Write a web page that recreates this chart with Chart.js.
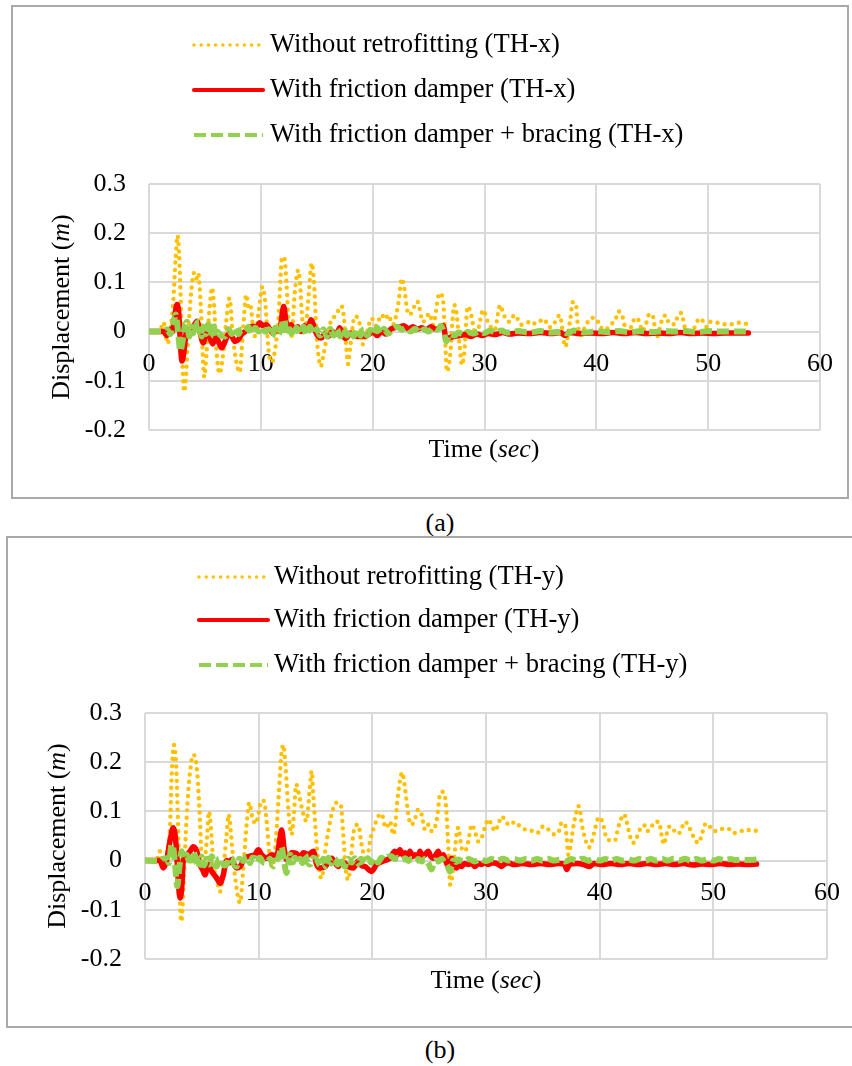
<!DOCTYPE html>
<html>
<head>
<meta charset="utf-8">
<title>Displacement time histories</title>
<script src="https://cdn.jsdelivr.net/npm/chart.js@4.4.0/dist/chart.umd.min.js"></script>
<style>
  body { margin: 0; background: #fff; width: 852px; height: 1066px; position: relative; overflow: hidden;
         font-family: "Liberation Serif", "Times New Roman", serif; }
  .panel { position: absolute; box-sizing: border-box; border: 2px solid #a9a9a9; background: #fff; }
  .panel canvas { display: block; }
  .caption { position: absolute; width: 100px; text-align: center; font-size: 26px; line-height: 30px; color: #000; }
</style>
</head>
<body>
<div class="panel" style="left:11px; top:5px; width:838px; height:494px;">
  <canvas id="chartX" width="834" height="490"></canvas>
</div>
<div class="caption" style="left:390px; top:508px;">(a)</div>
<div class="panel" style="left:6px; top:536px; width:848px; height:492px;">
  <canvas id="chartY" width="844" height="488"></canvas>
</div>
<div class="caption" style="left:390px; top:1035px;">(b)</div>

<script>
// ---------- axis ticks ----------
const timeTicks = [0, 10, 20, 30, 40, 50, 60];
const dispTicks = [-0.2, -0.1, 0, 0.1, 0.2, 0.3];

// ---------- series names ----------
const namesX = ["Without retrofitting (TH-x)", "With friction damper (TH-x)", "With friction damper + bracing (TH-x)"];
const namesY = ["Without retrofitting (TH-y)", "With friction damper (TH-y)", "With friction damper + bracing (TH-y)"];

// ---------- TH-x records: [time (sec), displacement (m)] ----------
const noRetroX = [[0,0],[1.0,0.004],[1.3,0.019],[1.65,-0.024],[1.95,0.012],[2.17,0.061],[2.38,0.149],[2.56,0.195],[2.68,0.163],[2.86,0.047],[3.0,-0.068],[3.15,-0.122],[3.3,-0.095],[3.5,-0.007],[3.8,0.088],[4.05,0.12],[4.25,0.108],[4.4,0.118],[4.64,0.047],[4.85,-0.068],[4.94,-0.092],[5.15,-0.04],[5.39,0.041],[5.65,0.089],[5.83,0.047],[6.04,-0.04],[6.3,-0.085],[6.55,-0.06],[6.9,0.02],[7.2,0.068],[7.5,-0.01],[7.8,-0.06],[8.1,-0.083],[8.4,0.0],[8.7,0.075],[8.9,0.05],[9.05,0.055],[9.3,0.01],[9.5,-0.01],[9.8,0.04],[10.15,0.091],[10.4,0.058],[10.7,-0.04],[11.0,-0.062],[11.25,-0.04],[11.55,0.02],[11.9,0.149],[12.08,0.152],[12.3,0.095],[12.5,0.014],[12.74,-0.01],[13.04,0.081],[13.35,0.125],[13.5,0.1],[13.7,0.027],[13.93,0.0],[14.23,0.061],[14.55,0.139],[14.76,0.098],[14.97,0.0],[15.18,-0.054],[15.36,-0.071],[15.6,-0.047],[15.86,-0.017],[16.16,0.014],[16.8,0.037],[17.2,0.052],[17.4,0.035],[17.65,-0.034],[17.8,-0.066],[18.0,-0.03],[18.4,0.031],[18.8,0.02],[19.1,-0.026],[19.5,0.0],[19.9,0.027],[20.3,0.012],[20.8,0.034],[21.1,0.025],[21.4,0.034],[21.8,0.014],[22.3,0.058],[22.6,0.108],[22.85,0.085],[23.06,0.047],[23.3,0.034],[24.0,0.061],[24.5,0.02],[25.09,0.037],[25.4,0.014],[25.98,0.078],[26.28,0.068],[26.43,0.014],[26.64,-0.081],[26.9,-0.054],[27.3,0.054],[27.5,0.037],[27.77,-0.027],[28.0,-0.068],[28.2,-0.04],[28.5,0.051],[28.7,0.044],[29.25,-0.007],[29.9,0.044],[30.3,0.02],[30.9,0.003],[31.4,0.054],[31.7,0.035],[32.2,0.02],[32.7,0.034],[33.3,0.014],[33.9,0.019],[34.2,0.014],[34.5,0.017],[34.9,0.019],[35.2,0.026],[35.5,0.02],[35.8,0.009],[36.2,0.014],[36.4,0.025],[36.76,0.033],[36.9,0.016],[37.08,-0.017],[37.23,-0.031],[37.4,-0.017],[37.68,0.027],[37.9,0.06],[38.2,0.054],[38.3,0.022],[38.6,-0.007],[39.08,0.014],[39.6,0.028],[39.97,0.027],[40.27,0.014],[40.7,0.003],[41.3,0.014],[41.75,0.027],[41.96,0.041],[42.35,0.03],[42.5,0.015],[42.95,-0.001],[43.2,0.017],[43.6,0.028],[43.9,0.016],[44.1,0.001],[44.4,0.012],[44.7,0.034],[45.0,0.035],[45.4,-0.011],[45.9,0.025],[46.2,0.033],[46.5,0.017],[47.0,0.015],[47.3,0.033],[47.6,0.038],[47.9,0.01],[48.3,0.0],[48.75,0.007],[49.0,0.02],[49.3,0.027],[49.6,0.019],[49.9,0.009],[50.2,0.02],[50.8,0.018],[51.4,0.015],[52.0,0.015],[52.7,0.018],[53.4,0.016],[53.7,0.015]];
const damperX = [[0,0],[1.3,0],[1.6,-0.008],[1.9,0.005],[2.1,0.0],[2.3,0.03],[2.5,0.055],[2.65,0.04],[2.8,-0.02],[2.95,-0.06],[3.1,-0.045],[3.35,0.0],[3.7,0.005],[4.0,0.012],[4.3,0.021],[4.55,0.0],[4.85,-0.023],[5.1,-0.005],[5.4,-0.01],[5.7,-0.025],[6.0,-0.01],[6.2,-0.02],[6.5,-0.033],[6.8,-0.02],[7.1,-0.005],[7.4,-0.01],[7.7,-0.02],[8.0,-0.016],[8.3,-0.005],[8.6,0.0],[8.9,0.008],[9.3,0.011],[9.6,0.008],[9.9,0.018],[10.2,0.012],[10.5,0.014],[10.8,0.005],[11.1,-0.004],[11.4,0.005],[11.7,0.0],[11.9,0.035],[12.05,0.051],[12.25,0.02],[12.5,0.005],[12.7,0.014],[13.0,0.005],[13.3,0.01],[13.6,0.0],[13.9,0.012],[14.2,0.005],[14.5,0.024],[14.75,0.01],[15.0,-0.005],[15.4,-0.013],[15.7,-0.005],[16.0,-0.01],[16.4,0.0],[16.8,-0.005],[17.05,0.008],[17.35,-0.008],[17.6,-0.014],[18.0,-0.003],[18.3,-0.008],[18.6,-0.01],[19.0,-0.008],[19.3,-0.01],[19.7,-0.005],[20.0,0.0],[20.4,-0.008],[20.8,0.0],[21.2,-0.005],[21.6,0.005],[22.0,0.008],[22.4,0.01],[22.8,0.012],[23.2,0.005],[23.6,0.01],[24.0,0.005],[24.4,0.008],[24.8,0.003],[25.2,0.01],[25.6,0.005],[26.0,0.008],[26.3,0.012],[26.6,-0.017],[26.9,-0.012],[27.3,-0.01],[27.8,-0.008],[28.3,-0.006],[28.8,-0.01],[29.3,-0.005],[29.8,-0.008],[30.3,-0.004],[31.0,-0.006],[31.6,-0.002],[32.3,-0.005],[33.0,-0.003],[34.0,-0.004],[35.0,-0.002],[36.0,-0.004],[36.8,-0.002],[37.2,-0.008],[37.6,-0.002],[38.5,-0.004],[39.5,-0.003],[40.5,-0.004],[41.5,-0.002],[42.5,-0.004],[43.5,-0.002],[44.5,-0.004],[45.5,-0.003],[46.5,-0.004],[47.5,-0.002],[48.5,-0.004],[49.5,-0.003],[50.5,-0.004],[51.5,-0.003],[52.5,-0.003],[53.6,-0.003]];
const bracedX = [[0,0],[1.3,0],[1.6,0.005],[1.9,-0.005],[2.2,0.02],[2.4,0.035],[2.6,0.0],[2.8,-0.04],[3.0,-0.02],[3.2,0.01],[3.4,0.02],[3.6,-0.01],[3.8,0.01],[4.0,-0.01],[4.25,0.015],[4.5,0.02],[4.7,-0.01],[4.9,0.01],[5.1,-0.005],[5.3,0.015],[5.5,-0.01],[5.7,0.02],[5.9,-0.01],[6.1,0.0],[6.4,-0.008],[6.8,-0.01],[7.1,0.005],[7.4,-0.005],[7.7,0.008],[8.0,-0.005],[8.3,0.005],[8.6,0.0],[8.9,0.01],[9.2,-0.005],[9.5,0.008],[9.8,0.0],[10.1,0.01],[10.4,0.0],[10.7,0.005],[11.0,-0.01],[11.3,0.008],[11.6,-0.005],[11.9,0.015],[12.1,0.025],[12.3,-0.008],[12.6,0.005],[12.9,-0.01],[13.2,0.008],[13.5,-0.005],[13.8,0.01],[14.1,-0.008],[14.4,0.01],[14.7,-0.005],[15.0,0.005],[15.3,-0.008],[15.6,0.005],[15.9,-0.01],[16.2,0.006],[16.5,-0.008],[16.8,0.005],[17.1,-0.01],[17.4,0.006],[17.7,-0.008],[18.0,0.005],[18.3,-0.01],[18.6,0.006],[18.9,-0.008],[19.2,0.005],[19.5,-0.008],[19.8,0.004],[20.1,-0.006],[20.4,0.008],[20.7,-0.004],[21.0,0.006],[21.4,-0.004],[21.8,0.006],[22.2,0.01],[22.6,0.004],[23.0,0.008],[23.4,0.0],[23.8,0.006],[24.2,-0.002],[24.6,0.005],[25.0,0.0],[25.4,0.008],[25.8,0.004],[26.1,0.012],[26.35,0.0],[26.6,-0.02],[26.9,-0.005],[27.3,-0.008],[27.7,-0.002],[28.1,-0.006],[28.5,-0.001],[29.0,-0.004],[29.5,0.0],[30.0,-0.003],[30.5,0.002],[31.0,-0.002],[31.5,0.002],[32.0,-0.002],[33.0,0.001],[34.0,-0.002],[35.0,0.001],[36.0,-0.002],[37.0,0.0],[37.4,-0.004],[38.0,0.002],[39.0,-0.002],[40.0,0.001],[41.0,-0.001],[42.0,0.001],[43.0,-0.001],[44.0,0.001],[45.0,-0.001],[46.0,0.001],[47.0,0.0],[48.0,0.001],[49.0,-0.001],[50.0,0.001],[51.0,0.0],[52.0,0.0],[53.6,0.0]];

// ---------- TH-y records: [time (sec), displacement (m)] ----------
const noRetroY = [[0,0],[1.0,0.0],[1.3,0.019],[1.6,-0.018],[1.9,0.012],[2.2,0.067],[2.35,0.175],[2.55,0.235],[2.75,0.19],[2.93,0.053],[3.08,-0.09],[3.2,-0.124],[3.37,-0.063],[3.66,0.087],[3.96,0.18],[4.25,0.215],[4.55,0.19],[4.78,0.107],[5.0,0.0],[5.12,-0.015],[5.43,0.04],[5.63,0.1],[5.8,0.067],[6.0,0.0],[6.4,-0.049],[6.6,-0.063],[6.9,-0.015],[7.18,0.053],[7.36,0.094],[7.54,0.061],[7.77,0.0],[8.1,-0.063],[8.36,-0.086],[8.65,-0.015],[8.94,0.073],[9.18,0.118],[9.42,0.09],[9.76,0.075],[9.97,0.094],[10.26,0.122],[10.47,0.121],[10.7,0.08],[11.0,0.0],[11.23,-0.012],[11.44,0.019],[11.73,0.12],[12.0,0.216],[12.17,0.235],[12.37,0.19],[12.6,0.107],[12.9,0.053],[13.1,0.094],[13.3,0.155],[13.6,0.128],[13.9,0.097],[14.2,0.08],[14.5,0.148],[14.66,0.182],[14.8,0.135],[15.1,0.033],[15.4,-0.029],[15.55,-0.036],[15.83,0.016],[16.42,0.094],[16.86,0.118],[17.24,0.111],[17.44,0.053],[17.65,-0.015],[17.88,-0.039],[18.05,-0.015],[18.32,0.053],[18.6,0.072],[18.76,0.073],[19.05,0.033],[19.5,-0.001],[19.79,0.039],[19.94,0.053],[20.23,0.073],[20.52,0.09],[20.82,0.095],[21.1,0.07],[21.25,0.067],[21.55,0.08],[21.84,0.053],[21.99,0.067],[22.2,0.121],[22.43,0.162],[22.63,0.179],[22.87,0.148],[23.16,0.094],[23.4,0.073],[23.69,0.08],[24.04,0.104],[24.33,0.094],[24.63,0.063],[24.92,0.073],[25.21,0.06],[25.5,0.067],[25.74,0.094],[25.95,0.135],[26.15,0.14],[26.39,0.131],[26.53,0.094],[26.74,0.0],[26.85,-0.049],[27.12,-0.015],[27.41,0.053],[27.56,0.067],[27.85,0.026],[28.14,0.019],[28.44,0.039],[28.73,0.073],[29.02,0.06],[29.32,0.039],[29.61,0.046],[29.9,0.067],[30.2,0.084],[30.49,0.073],[30.78,0.06],[31.08,0.073],[31.37,0.09],[31.81,0.077],[32.1,0.072],[32.54,0.079],[32.98,0.07],[33.56,0.062],[34.15,0.06],[34.45,0.056],[34.74,0.06],[35.03,0.07],[35.33,0.067],[35.62,0.06],[36.06,0.053],[36.44,0.061],[36.65,0.077],[36.94,0.075],[37.1,0.046],[37.23,0.012],[37.38,0.022],[37.67,0.067],[37.91,0.095],[38.11,0.111],[38.26,0.104],[38.41,0.077],[38.7,0.046],[39.08,0.027],[39.28,0.036],[39.58,0.063],[39.78,0.082],[40.02,0.088],[40.31,0.073],[40.6,0.046],[41.04,0.041],[41.34,0.041],[41.63,0.067],[41.87,0.084],[42.16,0.094],[42.36,0.08],[42.66,0.05],[42.95,0.036],[43.24,0.046],[43.54,0.063],[43.92,0.072],[44.12,0.06],[44.42,0.063],[44.85,0.079],[45.21,0.079],[45.44,0.053],[45.65,0.033],[45.88,0.053],[46.17,0.07],[46.47,0.063],[46.91,0.054],[47.29,0.07],[47.49,0.079],[47.79,0.072],[48.22,0.05],[48.67,0.036],[48.96,0.05],[49.25,0.073],[49.55,0.075],[49.84,0.063],[50.43,0.06],[50.86,0.065],[51.39,0.064],[51.81,0.056],[52.33,0.059],[52.92,0.063],[53.5,0.06],[53.8,0.061]];
const damperY = [[0,0],[1.3,0],[1.61,-0.015],[1.9,0.0],[2.2,0.04],[2.49,0.067],[2.73,0.033],[2.93,-0.042],[3.08,-0.076],[3.23,-0.056],[3.37,0.0],[3.67,0.012],[3.96,0.019],[4.25,0.028],[4.55,0.019],[4.84,-0.008],[5.1,-0.02],[5.28,-0.029],[5.57,-0.008],[5.87,-0.022],[6.3,-0.035],[6.6,-0.046],[6.89,-0.029],[7.18,0.0],[7.4,-0.005],[7.62,0.002],[8.06,-0.015],[8.36,-0.012],[8.8,0.005],[9.24,0.009],[9.68,0.012],[9.97,0.022],[10.26,0.012],[10.7,0.005],[11.14,0.012],[11.58,0.009],[11.88,0.046],[12.02,0.062],[12.23,0.026],[12.46,0.002],[12.9,0.016],[13.34,0.014],[13.64,0.005],[13.93,0.016],[14.37,0.012],[14.81,0.019],[15.1,-0.008],[15.4,-0.015],[15.84,-0.012],[16.1,-0.005],[16.42,0.005],[17.0,-0.012],[17.3,-0.003],[17.59,-0.005],[17.88,-0.012],[18.32,-0.015],[18.76,-0.001],[19.05,-0.01],[19.35,-0.012],[19.94,-0.022],[20.37,-0.008],[20.96,-0.001],[21.55,0.005],[21.99,0.019],[22.2,0.012],[22.43,0.022],[22.65,0.012],[22.87,0.016],[23.1,0.008],[23.31,0.019],[23.55,0.008],[23.75,0.012],[24.0,0.006],[24.19,0.019],[24.4,0.008],[24.63,0.012],[24.92,0.019],[25.15,0.008],[25.36,0.005],[25.6,0.012],[25.8,0.019],[26.0,0.006],[26.24,0.012],[26.45,0.0],[26.68,-0.012],[26.97,0.005],[27.2,-0.008],[27.41,-0.015],[27.65,-0.008],[27.85,-0.012],[28.1,-0.006],[28.44,-0.008],[28.75,-0.005],[29.02,-0.012],[29.3,-0.006],[29.61,-0.008],[29.9,-0.004],[30.2,-0.008],[30.5,-0.005],[30.78,-0.005],[31.1,-0.008],[31.37,-0.012],[31.7,-0.006],[31.96,-0.005],[32.5,-0.008],[33.2,-0.006],[34.0,-0.008],[34.8,-0.006],[35.6,-0.008],[36.4,-0.006],[36.9,-0.007],[37.1,-0.018],[37.35,-0.008],[38.0,-0.006],[38.6,-0.008],[39.1,-0.012],[39.5,-0.006],[40.2,-0.008],[41.0,-0.006],[41.8,-0.008],[42.6,-0.006],[43.4,-0.008],[44.2,-0.006],[45.0,-0.008],[45.8,-0.006],[46.6,-0.008],[47.4,-0.006],[48.2,-0.009],[49.0,-0.007],[49.8,-0.008],[50.6,-0.006],[51.4,-0.008],[52.2,-0.007],[53.0,-0.008],[53.8,-0.007]];
const bracedY = [[0,0],[1.32,-0.001],[1.6,0.004],[1.9,0.005],[2.1,-0.005],[2.35,0.033],[2.49,0.026],[2.65,-0.01],[2.84,-0.052],[3.02,-0.015],[3.23,0.019],[3.45,0.005],[3.67,0.012],[3.85,0.0],[3.96,0.016],[4.1,0.0],[4.25,0.019],[4.45,0.005],[4.69,-0.015],[4.99,0.008],[5.2,-0.01],[5.43,0.004],[5.65,-0.008],[5.87,0.009],[6.1,-0.008],[6.3,-0.012],[6.5,0.004],[6.74,0.002],[6.95,-0.01],[7.18,-0.008],[7.4,0.006],[7.62,0.005],[7.85,-0.008],[8.06,-0.012],[8.3,0.004],[8.65,-0.001],[8.95,0.008],[9.24,-0.005],[9.45,0.006],[9.68,0.005],[9.9,-0.004],[10.12,0.006],[10.4,-0.004],[10.7,-0.005],[11.0,0.004],[11.29,-0.012],[11.5,0.0],[11.73,0.005],[12.02,0.028],[12.23,-0.001],[12.46,-0.025],[12.76,0.012],[13.0,-0.004],[13.2,0.006],[13.45,-0.006],[13.64,0.004],[13.85,-0.005],[14.08,0.012],[14.3,-0.003],[14.52,-0.008],[14.8,0.006],[15.1,0.002],[15.4,-0.01],[15.69,0.004],[15.9,-0.012],[16.13,0.006],[16.4,-0.006],[16.71,0.004],[16.95,-0.008],[17.15,0.008],[17.4,-0.006],[17.59,-0.012],[17.85,0.004],[18.17,-0.004],[18.45,0.005],[18.76,-0.006],[19.0,0.004],[19.3,-0.006],[19.6,0.005],[19.9,-0.004],[20.2,0.006],[20.5,-0.004],[20.8,0.006],[21.1,0.002],[21.4,0.008],[21.69,0.009],[22.0,0.003],[22.28,0.006],[22.6,0.001],[22.9,0.005],[23.16,-0.001],[23.5,0.004],[23.8,-0.002],[24.04,0.003],[24.35,-0.002],[24.63,0.004],[24.9,-0.004],[25.21,-0.018],[25.5,0.0],[25.8,-0.002],[26.1,0.004],[26.39,-0.005],[26.6,-0.01],[26.82,-0.022],[27.12,0.0],[27.4,-0.003],[27.56,0.002],[28.0,-0.002],[28.5,0.003],[29.0,-0.002],[29.5,0.003],[30.0,-0.001],[30.5,0.003],[31.0,0.0],[31.5,0.004],[32.0,0.0],[32.5,0.003],[33.0,0.0],[33.5,0.003],[34.0,0.0],[34.5,0.003],[35.0,0.0],[35.5,0.003],[36.0,0.0],[36.5,0.002],[37.0,-0.002],[37.5,0.003],[38.0,0.0],[38.5,0.004],[39.0,0.0],[39.5,0.003],[40.0,0.0],[40.5,0.003],[41.0,0.0],[41.5,0.003],[42.0,0.0],[42.5,0.003],[43.0,0.0],[43.5,0.003],[44.0,0.0],[44.5,0.003],[45.0,0.0],[45.5,0.003],[46.0,0.0],[46.5,0.004],[47.0,0.0],[47.5,0.004],[48.0,0.0],[48.5,0.003],[49.0,0.0],[49.5,0.003],[50.0,0.0],[50.5,0.003],[51.0,0.001],[51.5,0.003],[52.0,0.001],[52.5,0.002],[53.0,0.001],[53.8,0.002]];

// ---------- styling ----------
const FONT_FAMILY = "'Liberation Serif', 'Times New Roman', serif";
const FONT_SIZE = 26;
const KEY_FONT_SIZE = 26.6;
const GRID = "#d9d9d9";

// order: lower numbers are painted last (on top)
const seriesStyle = [
  { color: "#FFC000", width: 4.4, dash: [0, 7.2], cap: "round", order: 2, keyScale: 0.8 },
  { color: "#FF0000", width: 5.5, dash: [], cap: "round", order: 1, keyScale: 0.75 },
  { color: "#92D050", width: 6, dash: [12, 5], cap: "butt", order: 0, keyScale: 0.7 }
];

const timeTitle = [["Time (", false], ["sec", true], [")", false]];
const dispTitle = [["Displacement (", false], ["m", true], [")", false]];

// draws a run of normal/italic pieces centred on (cx, cy)
function drawParts(ctx, parts, cx, cy) {
  const fonts = parts.map(p => (p[1] ? "italic " : "") + FONT_SIZE + "px " + FONT_FAMILY);
  let total = 0;
  parts.forEach((p, i) => { ctx.font = fonts[i]; total += ctx.measureText(p[0]).width; });
  let x = cx - total / 2;
  parts.forEach((p, i) => {
    ctx.font = fonts[i];
    ctx.fillText(p[0], x, cy);
    x += ctx.measureText(p[0]).width;
  });
}

// -------------------- LEGEND (stacked line samples) --------------------
const lineKey = {
  id: "lineKey",
  afterDraw(chart, args, opts) {
    const ctx = chart.ctx;
    chart.data.datasets.forEach((ds, i) => {
      const y = opts.rows[i];
      ctx.save();
      ctx.strokeStyle = ds.borderColor;
      ctx.lineWidth = ds.borderWidth * seriesStyle[i].keyScale;
      ctx.lineCap = ds.borderCapStyle;
      ctx.setLineDash(ds.borderDash);
      ctx.beginPath();
      ctx.moveTo(opts.x1, y);
      ctx.lineTo(opts.x2, y);
      ctx.stroke();
      ctx.restore();

      ctx.save();
      ctx.fillStyle = "#000";
      ctx.textBaseline = "middle";
      ctx.font = KEY_FONT_SIZE + "px " + FONT_FAMILY;
      ctx.fillText(ds.label, opts.textX, y);
      ctx.restore();
    });
  }
};

// -------------------- AXIS TITLES --------------------
const axisTitles = {
  id: "axisTitles",
  afterDraw(chart, args, opts) {
    const ctx = chart.ctx;
    ctx.save();
    ctx.fillStyle = "#000";
    ctx.textBaseline = "middle";
    drawParts(ctx, timeTitle, opts.x[0], opts.x[1]);
    ctx.translate(opts.y[0], opts.y[1]);
    ctx.rotate(-Math.PI / 2);
    drawParts(ctx, dispTitle, 0, 0);
    ctx.restore();
  }
};

// -------------------- BUILD ONE PANEL --------------------
function buildChart(canvasId, names, records, layout) {
  const datasets = records.map((rec, i) => ({
    label: names[i],
    data: rec.map(p => ({ x: p[0], y: p[1] })),
    borderColor: seriesStyle[i].color,
    borderWidth: seriesStyle[i].width,
    borderDash: seriesStyle[i].dash,
    borderCapStyle: seriesStyle[i].cap,
    borderJoinStyle: "round",
    order: seriesStyle[i].order,
    cubicInterpolationMode: "monotone",
    pointRadius: 0,
    fill: false
  }));

  const tickFont = { family: FONT_FAMILY, size: FONT_SIZE };

  return new Chart(document.getElementById(canvasId), {
    type: "line",
    data: { datasets },
    options: {
      responsive: false,
      animation: false,
      events: [],
      layout: { padding: layout.padding },
      plugins: {
        legend: { display: false },
        tooltip: { enabled: false },
        lineKey: layout.key,
        axisTitles: layout.titles
      },
      scales: {
        x: {
          type: "linear",
          position: { y: 0 },
          min: 0,
          max: 60,
          afterBuildTicks: s => { s.ticks = timeTicks.map(v => ({ value: v })); },
          // labels sit on the zero line, so the axis takes no room of its own
          afterFit: s => { s.height = 0; s.paddingLeft = 0; s.paddingRight = 0; },
          grid: { color: GRID, lineWidth: 2, drawTicks: false },
          border: { display: false },
          ticks: { color: "#000", font: tickFont, padding: 17, maxRotation: 0, autoSkip: false }
        },
        y: {
          type: "linear",
          min: -0.2,
          max: 0.3,
          afterBuildTicks: s => { s.ticks = dispTicks.map(v => ({ value: v })); },
          afterFit: s => { s.width = 120; },
          grid: { color: GRID, lineWidth: 2, drawTicks: false },
          border: { display: false },
          ticks: { color: "#000", font: tickFont, padding: 23, callback: v => String(v) }
        }
      }
    },
    plugins: [lineKey, axisTitles]
  });
}

// -------------------- INIT --------------------
buildChart("chartX", namesX, [noRetroX, damperX, bracedX], {
  padding: { left: 16, right: 27, top: 177, bottom: 67 },
  key: { x1: 181, x2: 250, textX: 257, rows: [38, 83, 128] },
  titles: { x: [471, 443], y: [49, 300] }
});

buildChart("chartY", namesY, [noRetroY, damperY, bracedY], {
  padding: { left: 17, right: 25, top: 175, bottom: 67 },
  key: { x1: 191, x2: 260, textX: 266, rows: [39, 82, 127] },
  titles: { x: [478, 443], y: [50, 298] }
});
</script>
</body>
</html>
